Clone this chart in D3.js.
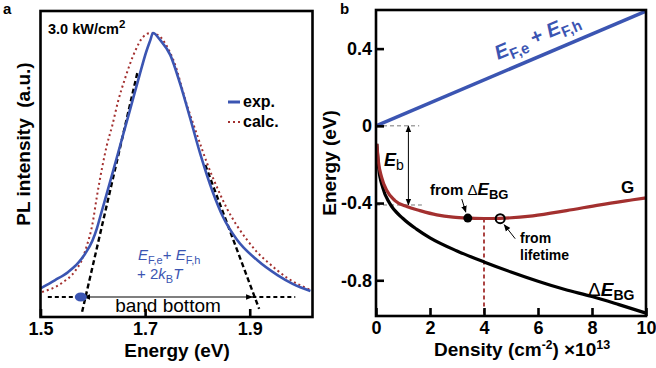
<!doctype html>
<html lang="en">
<head>
  <meta charset="utf-8">
  <title>PL spectrum and energy vs density</title>
  <style>
    body { margin: 0; background: #fff; }
    text { font-family: Arial, "Liberation Sans", sans-serif; }
  </style>
</head>
<body>
<svg id="mysvg"></svg>
<script src="https://d3js.org/d3.v7.min.js"></script>
<script>
// ---- panel a data ----
var expEnergy = [1.501, 1.528, 1.553, 1.572, 1.585, 1.599, 1.608, 1.614, 1.633, 1.652, 1.671, 1.690, 1.702, 1.710, 1.715, 1.729, 1.748, 1.767, 1.786, 1.805, 1.830, 1.849, 1.876, 1.914, 1.953, 1.983, 2.016];
var expValue  = [0.034, 0.064, 0.095, 0.129, 0.163, 0.212, 0.261, 0.303, 0.436, 0.572, 0.708, 0.845, 0.928, 0.973, 1.000, 0.973, 0.917, 0.807, 0.678, 0.545, 0.394, 0.303, 0.216, 0.140, 0.083, 0.049, 0.023];
var calcEnergy = [1.503, 1.541, 1.566, 1.579, 1.589, 1.599, 1.608, 1.618, 1.627, 1.637, 1.648, 1.662, 1.681, 1.696, 1.710, 1.725, 1.740, 1.754, 1.780, 1.800, 1.819, 1.838, 1.857, 1.876, 1.895, 1.914, 1.934, 1.972, 2.016];
var calcValue  = [0.019, 0.053, 0.098, 0.140, 0.197, 0.273, 0.383, 0.492, 0.576, 0.648, 0.739, 0.830, 0.932, 0.985, 1.000, 0.992, 0.955, 0.898, 0.727, 0.610, 0.504, 0.413, 0.333, 0.269, 0.216, 0.170, 0.133, 0.072, 0.027];
var tangentLeft  = [[1.685, 0.848], [1.579, -0.061]];
var tangentRight = [[1.815, 0.500], [1.918, -0.045]];
var bandBottom = [1.579, 1.905];   // band-bottom energies (dot, right crossing)
var baselineExtent = [1.514, 1.987];
var xTicksA = [1.5, 1.7, 1.9];

// ---- panel b data ----
var efDensity = [0, 10];
var efEnergy  = [0, 0.594];
var gDensity = [0.03, 0.085, 0.21, 0.40, 0.70, 1.14, 1.63, 2.25, 2.85, 3.48, 4.0, 4.59, 5.81, 7.06, 8.30, 9.52, 10];
var gEnergy  = [-0.094, -0.181, -0.267, -0.335, -0.387, -0.418, -0.439, -0.461, -0.473, -0.478, -0.480, -0.479, -0.466, -0.439, -0.409, -0.383, -0.373];
var bgDensity = [0.03, 0.10, 0.25, 0.5, 1.0, 1.5, 2.0, 3.0, 4.0, 5.0, 6.0, 7.0, 8.0, 9.0, 10];
var bgEnergy  = [-0.094, -0.220, -0.320, -0.400, -0.480, -0.535, -0.580, -0.648, -0.705, -0.757, -0.805, -0.848, -0.884, -0.926, -0.970];
var xTicksB = [0, 2, 4, 6, 8, 10];
var yTicksB = [-0.8, -0.4, 0, 0.4];
var fromBG = [3.4, -0.478];
var fromLifetime = [4.6, -0.481];
var minDensity = 4;
var ebDensity = 1.2;
var ebEnergy = [0, -0.41];
var ebGuideEnd = 1.7;

var width = 656, height = 368;
var blue = "#3b55b2", red = "#a3302f";

var svg = d3.select("#mysvg")
  .attr("width", width)
  .attr("height", height);

var defs = svg.append("defs");
function marker(id, orient) {
  defs.append("marker")
    .attr("id", id)
    .attr("viewBox", "0 0 10 10")
    .attr("refX", 9).attr("refY", 5)
    .attr("markerWidth", 7).attr("markerHeight", 7)
    .attr("markerUnits", "userSpaceOnUse")
    .attr("orient", orient)
    .append("path").attr("d", "M0,1 L10,5 L0,9 Z").attr("fill", "black");
}
marker("arr", "auto");
marker("arrs", "auto-start-reverse");

// ================= panel a =================
var xA = d3.scaleLinear().domain([1.5, 2.02]).range([40.5, 312.5]);
var yA = d3.scaleLinear().domain([0, 1]).range([297, 33]);
var gA = svg.append("g");

var lineA = d3.line()
  .x(function(d) { return xA(d[0]); })
  .y(function(d) { return yA(d[1]); })
  .curve(d3.curveMonotoneX);

// tangents
[tangentLeft, tangentRight].forEach(function(t) {
  gA.append("path").attr("d", d3.line().x(function(d){return xA(d[0]);}).y(function(d){return yA(d[1]);})(t))
    .attr("fill", "none").attr("stroke", "black").attr("stroke-width", 2.4)
    .attr("stroke-dasharray", "5,3");
});

var calcData = calcEnergy.map(function(e, i) { return [e, calcValue[i]]; });
gA.append("path").datum(calcData).attr("d", lineA)
  .attr("fill", "none").attr("stroke", red).attr("stroke-width", 2)
  .attr("stroke-dasharray", "2,3");

var expData = expEnergy.map(function(e, i) { return [e, expValue[i]]; });
gA.append("path").datum(expData).attr("d", lineA)
  .attr("fill", "none").attr("stroke", blue).attr("stroke-width", 2.6);

// band bottom baseline
gA.append("line")
  .attr("x1", xA(baselineExtent[0])).attr("x2", xA(bandBottom[0]))
  .attr("y1", yA(0)).attr("y2", yA(0))
  .attr("stroke", "black").attr("stroke-width", 1.8).attr("stroke-dasharray", "4,3");
gA.append("line")
  .attr("x1", xA(bandBottom[1])).attr("x2", xA(baselineExtent[1]))
  .attr("y1", yA(0)).attr("y2", yA(0))
  .attr("stroke", "black").attr("stroke-width", 1.8).attr("stroke-dasharray", "4,3");
gA.append("line")
  .attr("x1", xA(bandBottom[0]) + 2).attr("x2", xA(bandBottom[1]))
  .attr("y1", yA(0)).attr("y2", yA(0))
  .attr("stroke", "black").attr("stroke-width", 1.2)
  .attr("marker-start", "url(#arrs)").attr("marker-end", "url(#arr)");
gA.append("ellipse")
  .attr("cx", xA(bandBottom[0]) - 1).attr("cy", yA(0))
  .attr("rx", 6).attr("ry", 4.5).attr("fill", blue);

gA.append("text").attr("x", 168).attr("y", 312)
  .attr("text-anchor", "middle").attr("font-size", 19).text("band bottom");

// frame and axis
gA.append("rect").attr("x", 40.5).attr("y", 11).attr("width", 272).attr("height", 306)
  .attr("fill", "none").attr("stroke", "black").attr("stroke-width", 2.6);
var axA = gA.append("g").attr("transform", "translate(0,317)")
  .call(d3.axisBottom(xA).tickValues(xTicksA).tickSize(-8).tickPadding(5).tickFormat(d3.format(".1f")));
axA.select(".domain").remove();
axA.selectAll("line").attr("stroke-width", 2.6);
axA.selectAll("text").attr("font-size", 18).attr("font-weight", "bold")
  .attr("font-family", "Arial, 'Liberation Sans', sans-serif");

gA.append("text").attr("x", 177).attr("y", 357)
  .attr("text-anchor", "middle").attr("font-size", 19).attr("font-weight", "bold").text("Energy (eV)");
gA.append("text").attr("transform", "translate(30,144) rotate(-90)")
  .attr("text-anchor", "middle").attr("font-size", 19).attr("font-weight", "bold")
  .attr("xml:space", "preserve").text("PL intensity  (a.u.)");

var pw = gA.append("text").attr("x", 48).attr("y", 34).attr("font-size", 14.5).attr("font-weight", "bold");
pw.append("tspan").text("3.0 kW/cm");
pw.append("tspan").attr("dy", -6).attr("font-size", 11.5).text("2");

// legend
gA.append("line").attr("x1", 228).attr("x2", 240).attr("y1", 102).attr("y2", 102)
  .attr("stroke", blue).attr("stroke-width", 3);
gA.append("text").attr("x", 243).attr("y", 107).attr("font-size", 16).attr("font-weight", "bold").text("exp.");
gA.append("line").attr("x1", 228).attr("x2", 241).attr("y1", 122).attr("y2", 122)
  .attr("stroke", red).attr("stroke-width", 2).attr("stroke-dasharray", "2,3");
gA.append("text").attr("x", 243).attr("y", 127).attr("font-size", 16).attr("font-weight", "bold").text("calc.");

// blue annotation
var ef1 = gA.append("text").attr("x", 138).attr("y", 260).attr("font-size", 15).attr("fill", blue);
ef1.append("tspan").attr("font-style", "italic").text("E");
ef1.append("tspan").attr("dy", 4).attr("font-size", 11).text("F,e");
ef1.append("tspan").attr("dy", -4).text("+ ");
ef1.append("tspan").attr("font-style", "italic").text("E");
ef1.append("tspan").attr("dy", 4).attr("font-size", 11).text("F,h");
var ef2 = gA.append("text").attr("x", 137).attr("y", 279).attr("font-size", 15).attr("fill", blue);
ef2.append("tspan").text("+ 2");
ef2.append("tspan").attr("font-style", "italic").text("k");
ef2.append("tspan").attr("dy", 4).attr("font-size", 11).text("B");
ef2.append("tspan").attr("dy", -4).attr("font-style", "italic").text("T");

svg.append("text").attr("x", 3).attr("y", 14).attr("font-size", 15).attr("font-weight", "bold").text("a");

// ================= panel b =================
var xB = d3.scaleLinear().domain([0, 10]).range([376, 646]);
var yB = d3.scaleLinear().domain([-0.985, 0.6]).range([316, 10]);
var gB = svg.append("g");

var lineB = d3.line()
  .x(function(d) { return xB(d[0]); })
  .y(function(d) { return yB(d[1]); })
  .curve(d3.curveMonotoneX);

// guides for E_b
gB.append("line").attr("x1", xB(0)).attr("x2", xB(ebGuideEnd - 0.1))
  .attr("y1", yB(ebEnergy[0])).attr("y2", yB(ebEnergy[0]))
  .attr("stroke", "#777").attr("stroke-width", 1).attr("stroke-dasharray", "4,3");
gB.append("line").attr("x1", xB(0)).attr("x2", xB(ebGuideEnd))
  .attr("y1", yB(ebEnergy[1])).attr("y2", yB(ebEnergy[1]))
  .attr("stroke", "#777").attr("stroke-width", 1).attr("stroke-dasharray", "4,3");
gB.append("line").attr("x1", xB(ebDensity)).attr("x2", xB(ebDensity))
  .attr("y1", yB(ebEnergy[0])).attr("y2", yB(ebEnergy[1]))
  .attr("stroke", "black").attr("stroke-width", 1)
  .attr("marker-start", "url(#arrs)").attr("marker-end", "url(#arr)");

// vertical dashed at minimum
gB.append("line").attr("x1", xB(minDensity)).attr("x2", xB(minDensity))
  .attr("y1", yB(-0.48)).attr("y2", yB(-0.985))
  .attr("stroke", red).attr("stroke-width", 1.8).attr("stroke-dasharray", "4,3");

var bgData = bgDensity.map(function(n, i) { return [n, bgEnergy[i]]; });
gB.append("path").datum(bgData).attr("d", lineB)
  .attr("fill", "none").attr("stroke", "black").attr("stroke-width", 3.2);

var gData = gDensity.map(function(n, i) { return [n, gEnergy[i]]; });
gB.append("path").datum(gData).attr("d", lineB)
  .attr("fill", "none").attr("stroke", red).attr("stroke-width", 3.2);

var efData = efDensity.map(function(n, i) { return [n, efEnergy[i]]; });
gB.append("path").datum(efData).attr("d", lineB)
  .attr("fill", "none").attr("stroke", blue).attr("stroke-width", 3.5);

// markers
gB.append("circle").attr("cx", xB(fromBG[0])).attr("cy", yB(fromBG[1])).attr("r", 4.5).attr("fill", "black");
gB.append("circle").attr("cx", xB(fromLifetime[0])).attr("cy", yB(fromLifetime[1])).attr("r", 4.5)
  .attr("fill", "none").attr("stroke", "black").attr("stroke-width", 2);

gB.append("line").attr("x1", xB(fromBG[0]) - 6).attr("y1", yB(fromBG[1]) - 19)
  .attr("x2", xB(fromBG[0]) - 2).attr("y2", yB(fromBG[1]) - 6)
  .attr("stroke", "black").attr("stroke-width", 1).attr("marker-end", "url(#arr)");
gB.append("line").attr("x1", xB(fromLifetime[0]) + 15).attr("y1", yB(fromLifetime[1]) + 20)
  .attr("x2", xB(fromLifetime[0]) + 4).attr("y2", yB(fromLifetime[1]) + 6)
  .attr("stroke", "black").attr("stroke-width", 1).attr("marker-end", "url(#arr)");

// frame and axes
gB.append("rect").attr("x", 376).attr("y", 10).attr("width", 270).attr("height", 306)
  .attr("fill", "none").attr("stroke", "black").attr("stroke-width", 2.6);
var axBx = gB.append("g").attr("transform", "translate(0,316)")
  .call(d3.axisBottom(xB).tickValues(xTicksB).tickSize(-8).tickPadding(5).tickFormat(d3.format("d")));
var axBy = gB.append("g").attr("transform", "translate(376,0)")
  .call(d3.axisLeft(yB).tickValues(yTicksB).tickSize(-8).tickPadding(4)
    .tickFormat(function(d) { return d === 0 ? "0" : d3.format(".1f")(d).replace("\u2212", "-"); }));
[axBx, axBy].forEach(function(a) {
  a.select(".domain").remove();
  a.selectAll("line").attr("stroke-width", 2.6);
  a.selectAll("text").attr("font-size", 18).attr("font-weight", "bold")
    .attr("font-family", "Arial, 'Liberation Sans', sans-serif");
});

var dl = gB.append("text").attr("x", 434).attr("y", 356).attr("font-size", 19).attr("font-weight", "bold");
dl.append("tspan").text("Density (cm");
dl.append("tspan").attr("dy", -7).attr("font-size", 12).text("-2");
dl.append("tspan").attr("dy", 7).text(") \u00d710");
dl.append("tspan").attr("dy", -7).attr("font-size", 12.5).text("13");
gB.append("text").attr("transform", "translate(336,163) rotate(-90)")
  .attr("text-anchor", "middle").attr("font-size", 19).attr("font-weight", "bold").text("Energy (eV)");

// labels
var eb = gB.append("text").attr("x", 384).attr("y", 166).attr("font-size", 18).attr("font-weight", "bold");
eb.append("tspan").attr("font-style", "italic").text("E");
eb.append("tspan").attr("dy", 4).attr("font-size", 14).attr("font-weight", "normal").text("b");

var fb = gB.append("text").attr("x", 430).attr("y", 195).attr("font-size", 15).attr("font-weight", "bold");
fb.append("tspan").text("from ");
fb.append("tspan").attr("font-weight", "normal").text("\u0394");
fb.append("tspan").attr("font-style", "italic").attr("font-size", 17).text("E");
fb.append("tspan").attr("dy", 4).attr("font-size", 13).text("BG");

gB.append("text").attr("x", 520).attr("y", 243).attr("font-size", 14).attr("font-weight", "bold").text("from");
gB.append("text").attr("x", 520).attr("y", 260).attr("font-size", 14).attr("font-weight", "bold").text("lifetime");

gB.append("text").attr("x", 621).attr("y", 193).attr("font-size", 17).attr("font-weight", "bold").text("G");

var dbg = gB.append("text").attr("x", 588).attr("y", 296).attr("font-size", 19);
dbg.append("tspan").text("\u0394");
dbg.append("tspan").attr("font-style", "italic").attr("font-weight", "bold").text("E");
dbg.append("tspan").attr("dy", 4).attr("font-size", 14).attr("font-weight", "bold").text("BG");

var ang = Math.atan2(yB(efEnergy[1]) - yB(efEnergy[0]), xB(efDensity[1]) - xB(efDensity[0])) * 180 / Math.PI;
var efl = gB.append("text").attr("transform", "translate(498,60) rotate(" + ang + ")")
  .attr("font-size", 20).attr("font-weight", "bold").attr("fill", blue);
efl.append("tspan").attr("font-style", "italic").text("E");
efl.append("tspan").attr("dy", 5).attr("font-size", 15).text("F,e");
efl.append("tspan").attr("dy", -5).text(" + ");
efl.append("tspan").attr("font-style", "italic").text("E");
efl.append("tspan").attr("dy", 5).attr("font-size", 15).text("F,h");

svg.append("text").attr("x", 340).attr("y", 14).attr("font-size", 15).attr("font-weight", "bold").text("b");
</script>
</body>
</html>
